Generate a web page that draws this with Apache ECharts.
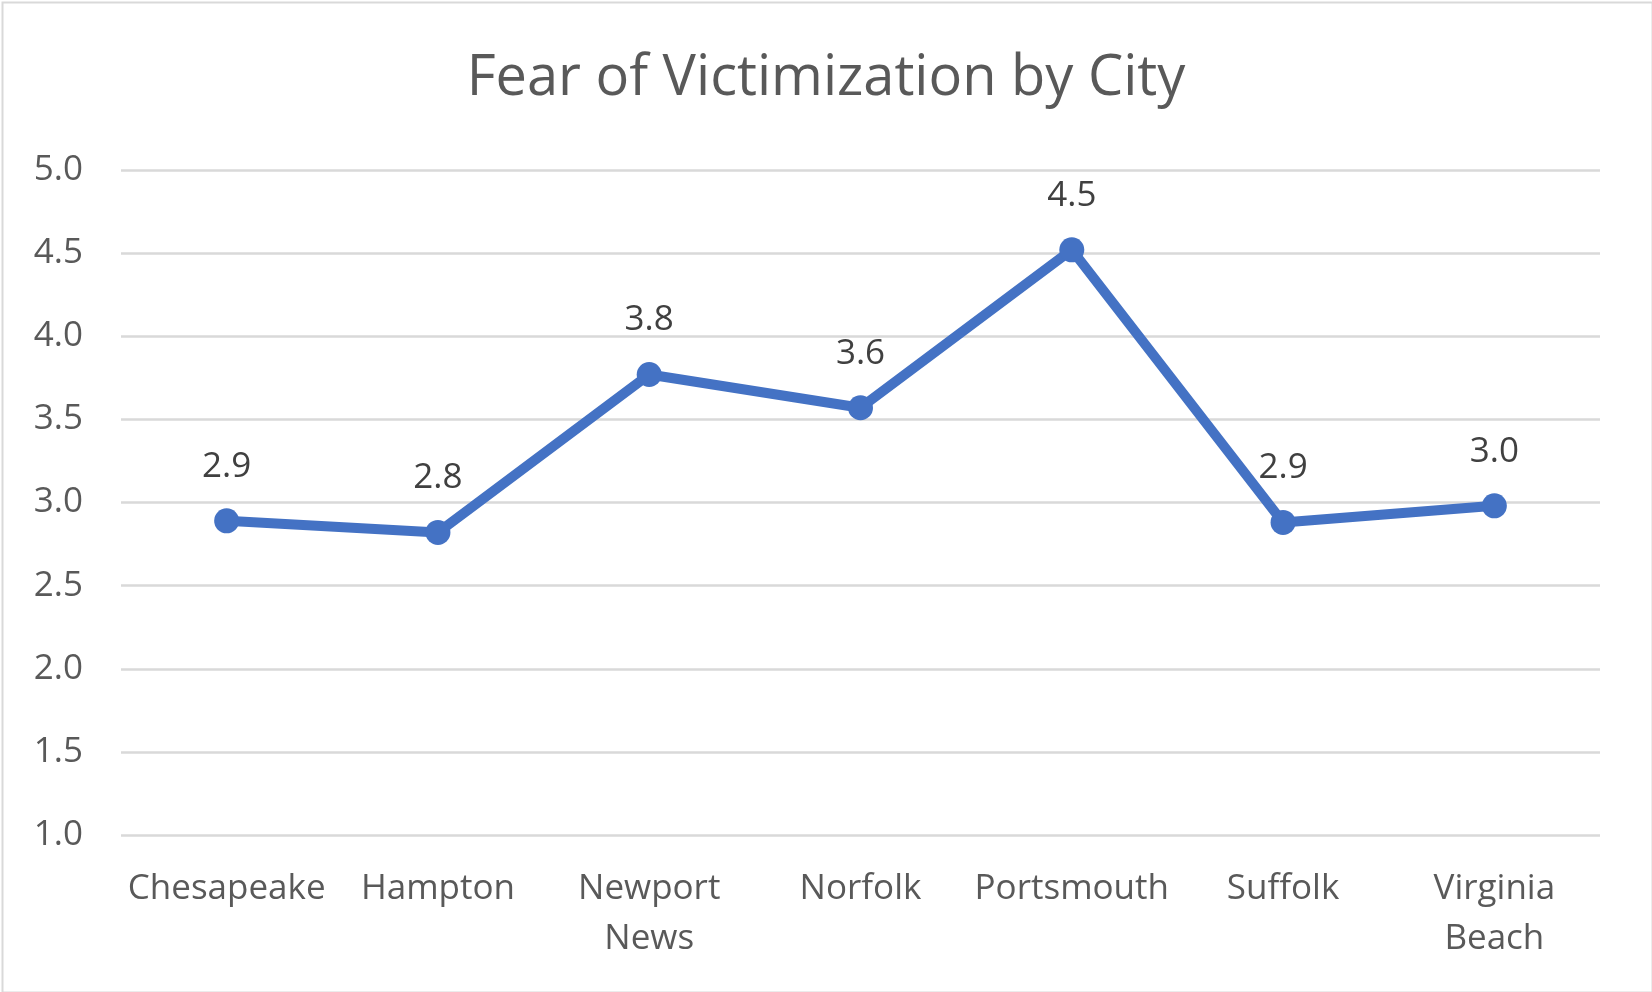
<!DOCTYPE html>
<html>
<head>
<meta charset="utf-8">
<script src="https://cdn.jsdelivr.net/npm/echarts@6/dist/echarts.min.js"></script>
<style>
html,body{margin:0;padding:0;background:#fff;}
#chart{width:1652px;height:992px;}
</style>
</head>
<body>
<div id="chart"></div>
<script>
const titleText = "Fear of Victimization by City";
const categories = ["Chesapeake", "Hampton", "Newport News", "Norfolk", "Portsmouth", "Suffolk", "Virginia Beach"];
const fearValues = [2.89, 2.82, 3.77, 3.57, 4.52, 2.88, 2.98];
const yTicks = [1.0, 1.5, 2.0, 2.5, 3.0, 3.5, 4.0, 4.5, 5.0];

const FONT = "'Open Sans', 'Noto Sans', sans-serif";
const chart = echarts.init(document.getElementById('chart'), null, {renderer: 'canvas'});
chart.setOption({
  animation: false,
  backgroundColor: '#ffffff',
  graphic: [{
    type: 'rect', left: 0, top: 0, z: -10,
    shape: {x: 1, y: 1, width: 1650, height: 990},
    style: {fill: 'none', stroke: '#d9d9d9', lineWidth: 2}
  }],
  title: {
    text: titleText, left: 'center', top: 46,
    textStyle: {fontFamily: FONT, fontSize: 56, fontWeight: 'normal', color: '#595959'}
  },
  grid: {left: 121, right: 52, top: 170, bottom: 157, containLabel: false},
  xAxis: {
    type: 'category', data: categories, boundaryGap: true,
    axisLine: {show: false}, axisTick: {show: false},
    axisLabel: {
      fontFamily: FONT, fontSize: 35, color: '#595959', margin: 29, lineHeight: 50, interval: 0,
      formatter: v => v.replace(' ', '\n')
    }
  },
  yAxis: {
    type: 'value', min: yTicks[0], max: yTicks[yTicks.length - 1], interval: 0.5,
    axisLine: {show: false}, axisTick: {show: false},
    axisLabel: {fontFamily: FONT, fontSize: 35, color: '#595959', margin: 38, formatter: v => v.toFixed(1)},
    splitLine: {lineStyle: {color: '#d9d9d9', width: 2.5}}
  },
  series: [{
    type: 'line', data: fearValues,
    symbol: 'circle', symbolSize: 25,
    lineStyle: {color: '#4472c4', width: 10},
    itemStyle: {color: '#4472c4'},
    label: {
      show: true, position: 'top', distance: 24,
      fontFamily: FONT, fontSize: 35, color: '#404040',
      formatter: p => p.value.toFixed(1)
    }
  }]
});
</script>
</body>
</html>
